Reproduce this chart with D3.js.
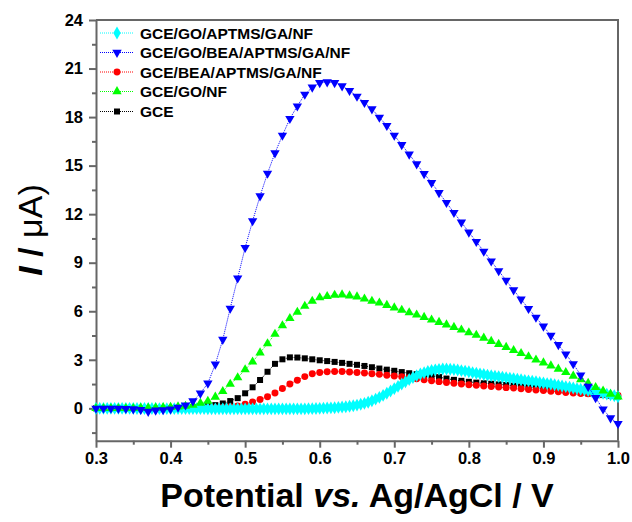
<!DOCTYPE html>
<html>
<head>
<meta charset="utf-8">
<script src="https://cdn.jsdelivr.net/npm/d3@7"></script>
<style>
  html, body { margin: 0; padding: 0; background: #fff; }
  svg { display: block; font-family: "Liberation Sans", Arial, sans-serif; }
</style>
</head>
<body>
<script>
// ---------------------------------------------------------------
// data (current in uA, potential grid 0.30 .. 1.00 V)
// ---------------------------------------------------------------
var potential = d3.range(71).map(function (i) { return +(0.30 + i * 0.01).toFixed(2) })
  , potentialFine = d3.range(141).map(function (i) { return +(0.30 + i * 0.005).toFixed(3) })

var seriesNames = ["GCE/GO/APTMS/GA/NF", "GCE/GO/BEA/APTMS/GA/NF", "GCE/BEA/APTMS/GA/NF", "GCE/GO/NF", "GCE"]

var cyanI = [
  0.00, 0.00, 0.00, 0.00, 0.00, 0.00, 0.00, 0.00, 0.00, 0.00, 0.00,
  -0.01, -0.01, -0.01, -0.01, -0.01, -0.01, -0.02, -0.02, -0.02, -0.02,
  -0.02, -0.02, -0.02, -0.02, -0.02, -0.02, -0.02, -0.02, -0.02,
  -0.03, -0.03, -0.03, -0.03, -0.03, -0.03, -0.03, -0.03, -0.03, -0.03, -0.03, -0.03, -0.03, -0.03,
  -0.03, -0.03, -0.03, -0.03, -0.03, -0.03, -0.03, -0.03, -0.03, -0.03, -0.03, -0.03, -0.03,
  -0.02, -0.02, -0.01, 0.00,
  0.01, 0.02, 0.03, 0.04, 0.06, 0.08, 0.10, 0.13, 0.16, 0.20,
  0.25, 0.31, 0.38, 0.47, 0.57, 0.68, 0.80, 0.93, 1.07, 1.22,
  1.36, 1.50, 1.64, 1.78, 1.91, 2.02, 2.12, 2.20, 2.28, 2.34,
  2.38, 2.41, 2.43, 2.43, 2.42, 2.40, 2.37, 2.33, 2.30, 2.26,
  2.21, 2.17, 2.13, 2.09, 2.05, 2.02, 1.99, 1.96, 1.93, 1.90,
  1.86, 1.83, 1.80, 1.77, 1.73, 1.70, 1.67, 1.64, 1.60, 1.57,
  1.53, 1.50, 1.46, 1.42, 1.38, 1.34, 1.30, 1.26, 1.22, 1.18,
  1.14, 1.10, 1.06, 1.01, 0.97, 0.93, 0.88, 0.83, 0.78, 0.72
]

var blueI = [
  0.00, 0.00, 0.00, -0.01, -0.02, -0.04, -0.08, -0.20, -0.12, -0.10, -0.05,
  0.06, 0.20, 0.45, 0.93, 1.55, 2.72, 4.25, 6.18, 8.05, 9.93,
  11.58, 13.12, 14.52, 15.78, 16.87, 17.90, 18.68, 19.40, 19.84, 20.12,
  20.17, 20.12, 19.92, 19.63, 19.28, 18.89, 18.50, 17.98, 17.47, 16.87,
  16.29, 15.70, 15.10, 14.50, 13.94, 13.32, 12.71, 12.09, 11.50, 10.88,
  10.30, 9.70, 9.10, 8.49, 7.91, 7.31, 6.74, 6.16, 5.62, 5.07,
  4.50, 3.93, 3.35, 2.75, 2.05, 1.35, 0.65, -0.05, -0.60, -0.95
]

var redI = [
  0.00, 0.00, 0.00, 0.00, 0.00, 0.00, 0.00, 0.00, 0.00, 0.00, 0.00,
  0.00, 0.01, 0.01, 0.02, 0.02, 0.04, 0.06, 0.10, 0.15, 0.26,
  0.40, 0.55, 0.72, 0.95, 1.22, 1.50, 1.74, 1.96, 2.14, 2.22,
  2.26, 2.28, 2.28, 2.25, 2.22, 2.18, 2.14, 2.10, 2.05, 2.00,
  1.95, 1.89, 1.83, 1.76, 1.70, 1.65, 1.60, 1.55, 1.50, 1.46,
  1.42, 1.38, 1.35, 1.32, 1.28, 1.25, 1.21, 1.17, 1.13, 1.10,
  1.06, 1.02, 0.98, 0.95, 0.92, 0.90, 0.87, 0.85, 0.83, 0.80
]

var greenI = [
  0.00, 0.00, 0.00, 0.00, 0.00, 0.00, 0.02, 0.03, 0.04, 0.05, 0.07,
  0.10, 0.14, 0.20, 0.32, 0.45, 0.70, 1.05, 1.50, 1.90, 2.39,
  2.87, 3.44, 4.00, 4.59, 5.11, 5.56, 5.95, 6.32, 6.63, 6.84,
  6.92, 7.00, 7.02, 6.96, 6.90, 6.77, 6.63, 6.52, 6.37, 6.22,
  6.07, 5.92, 5.78, 5.63, 5.47, 5.32, 5.17, 5.01, 4.85, 4.68,
  4.53, 4.35, 4.15, 3.96, 3.78, 3.58, 3.40, 3.20, 3.00, 2.82,
  2.63, 2.43, 2.22, 2.00, 1.78, 1.55, 1.30, 1.08, 0.88, 0.72
]

var blackI = [
  0.00, 0.00, 0.00, 0.00, 0.00, 0.00, 0.00, 0.00, 0.01, 0.01, 0.01,
  0.02, 0.04, 0.07, 0.10, 0.14, 0.20, 0.30, 0.45, 0.63, 0.93,
  1.30, 1.75, 2.26, 2.75, 3.03, 3.15, 3.14, 3.09, 3.03, 2.97,
  2.92, 2.87, 2.81, 2.75, 2.69, 2.62, 2.54, 2.46, 2.39, 2.32,
  2.24, 2.17, 2.11, 2.06, 2.00, 1.93, 1.84, 1.76, 1.70, 1.64,
  1.59, 1.55, 1.52, 1.48, 1.44, 1.40, 1.35, 1.30, 1.26, 1.22,
  1.17, 1.12, 1.07, 1.02, 0.97, 0.92, 0.87, 0.82, 0.78, 0.74
]

var xTicks = [0.3, 0.4, 0.5, 0.6, 0.7, 0.8, 0.9, 1.0]
  , yTicks = [0, 3, 6, 9, 12, 15, 18, 21, 24]

// ---------------------------------------------------------------
// layout
// ---------------------------------------------------------------
var W = 632, H = 522
  , mLeft = 96, mRight = 618, mTop = 20, mBottom = 440.7
  , axisColor = "#666"

var svg = d3.select("body").append("svg").attr("width", W).attr("height", H)

var x = d3.scaleLinear().domain([0.3, 1.0]).range([mLeft, mRight])
  , y = d3.scaleLinear().domain([-2, 24]).range([mBottom, mTop])

// series: name, x grid, values, colour, symbol, rotation (drawing order)
var series = [
  { name: seriesNames[4], xs: potential,     ys: blackI, color: "#000000", sym: d3.symbolSquare,   size: 36, rot: 0 },
  { name: seriesNames[2], xs: potential,     ys: redI,   color: "#ff0000", sym: d3.symbolCircle,   size: 38, rot: 0 },
  { name: seriesNames[0], xs: potentialFine, ys: cyanI,  color: "#00ffff", sym: d3.symbolDiamond,  size: 48, rot: 0 },
  { name: seriesNames[3], xs: potential,     ys: greenI, color: "#00ff00", sym: d3.symbolTriangle, size: 38, rot: 0 },
  { name: seriesNames[1], xs: potential,     ys: blueI,  color: "#0000ff", sym: d3.symbolTriangle, size: 38, rot: 180 }
]

// ---------------------------------------------------------------
// axes
// ---------------------------------------------------------------
var minorX = [0.35, 0.45, 0.55, 0.65, 0.75, 0.85, 0.95]
  , minorY = [-1.5, 1.5, 4.5, 7.5, 10.5, 13.5, 16.5, 19.5, 22.5]

svg.append("g").attr("transform", "translate(0," + mBottom + ")")
   .call(d3.axisBottom(x).tickValues(xTicks).tickFormat(d3.format(".1f")).tickSize(7).tickSizeOuter(0).tickPadding(5))
svg.append("g").attr("transform", "translate(0," + mBottom + ")")
   .call(d3.axisBottom(x).tickValues(minorX).tickFormat("").tickSize(4).tickSizeOuter(0))
   .select(".domain").remove()

svg.append("g").attr("transform", "translate(" + mLeft + ",0)")
   .call(d3.axisLeft(y).tickValues(yTicks).tickSize(7).tickSizeOuter(0).tickPadding(6))
svg.append("g").attr("transform", "translate(" + mLeft + ",0)")
   .call(d3.axisLeft(y).tickValues(minorY).tickFormat("").tickSize(4).tickSizeOuter(0))
   .select(".domain").remove()

svg.selectAll(".domain, .tick line").attr("stroke", axisColor).attr("stroke-width", 2)
svg.selectAll(".tick text").attr("fill", "#000").style("font-size", "16.5px").style("font-weight", "bold")

// top and right frame
svg.append("line").attr("x1", mLeft).attr("x2", mRight).attr("y1", mTop).attr("y2", mTop)
   .attr("stroke", axisColor).attr("stroke-width", 2)
svg.append("line").attr("x1", mRight).attr("x2", mRight).attr("y1", mTop - 1).attr("y2", mBottom)
   .attr("stroke", axisColor).attr("stroke-width", 2)

// ---------------------------------------------------------------
// curves
// ---------------------------------------------------------------
var plot = svg.append("g")
  , line = d3.line().x(function (d) { return x(d[0]) }).y(function (d) { return y(d[1]) })

series.forEach(function (s) {
  var pts = s.xs.map(function (v, i) { return [v, s.ys[i]] })
  var g = plot.append("g")
  g.append("path").attr("d", line(pts)).attr("fill", "none")
   .attr("stroke", s.color).attr("stroke-width", 1).attr("stroke-dasharray", "1,1")
  g.selectAll("path.m").data(pts).enter().append("path").attr("class", "m")
   .attr("d", d3.symbol().type(s.sym).size(s.size))
   .attr("transform", function (d) { return "translate(" + x(d[0]) + "," + y(d[1]) + ") rotate(" + s.rot + ")" })
   .attr("fill", s.color)
})

// ---------------------------------------------------------------
// legend
// ---------------------------------------------------------------
var legendOrder = [2, 4, 1, 3, 0]   // index into series, top to bottom
  , legendY = [33, 52.5, 72, 91.5, 111.5]

legendOrder.forEach(function (k, i) {
  var s = series[k], g = svg.append("g").attr("transform", "translate(0," + legendY[i] + ")")
  g.append("line").attr("x1", 100).attr("x2", 134).attr("y1", 0).attr("y2", 0)
   .attr("stroke", s.color).attr("stroke-width", 1).attr("stroke-dasharray", "1,1")
  g.append("path").attr("d", d3.symbol().type(s.sym).size(s.size))
   .attr("transform", "translate(117,0) rotate(" + s.rot + ")").attr("fill", s.color)
  g.append("text").attr("x", 140).attr("y", 0).attr("dy", "0.36em")
   .style("font-size", "15.5px").style("font-weight", "bold").text(s.name)
})

// ---------------------------------------------------------------
// axis titles
// ---------------------------------------------------------------
var xt = svg.append("text").attr("x", (mLeft + mRight) / 2).attr("y", 507).attr("text-anchor", "middle")
  .style("font-size", "34px").style("font-weight", "bold")
xt.append("tspan").text("Potential ")
xt.append("tspan").style("font-style", "italic").text("vs.")
xt.append("tspan").text(" Ag/AgCl / V")

var yt = svg.append("text").attr("transform", "translate(42,230) rotate(-90)").attr("text-anchor", "middle")
  .style("font-size", "34px")
yt.append("tspan").style("font-weight", "bold").style("font-style", "italic").text("I")
yt.append("tspan").style("font-weight", "bold").text(" / ")
yt.append("tspan").text("\u03bcA)")
</script>
</body>
</html>
